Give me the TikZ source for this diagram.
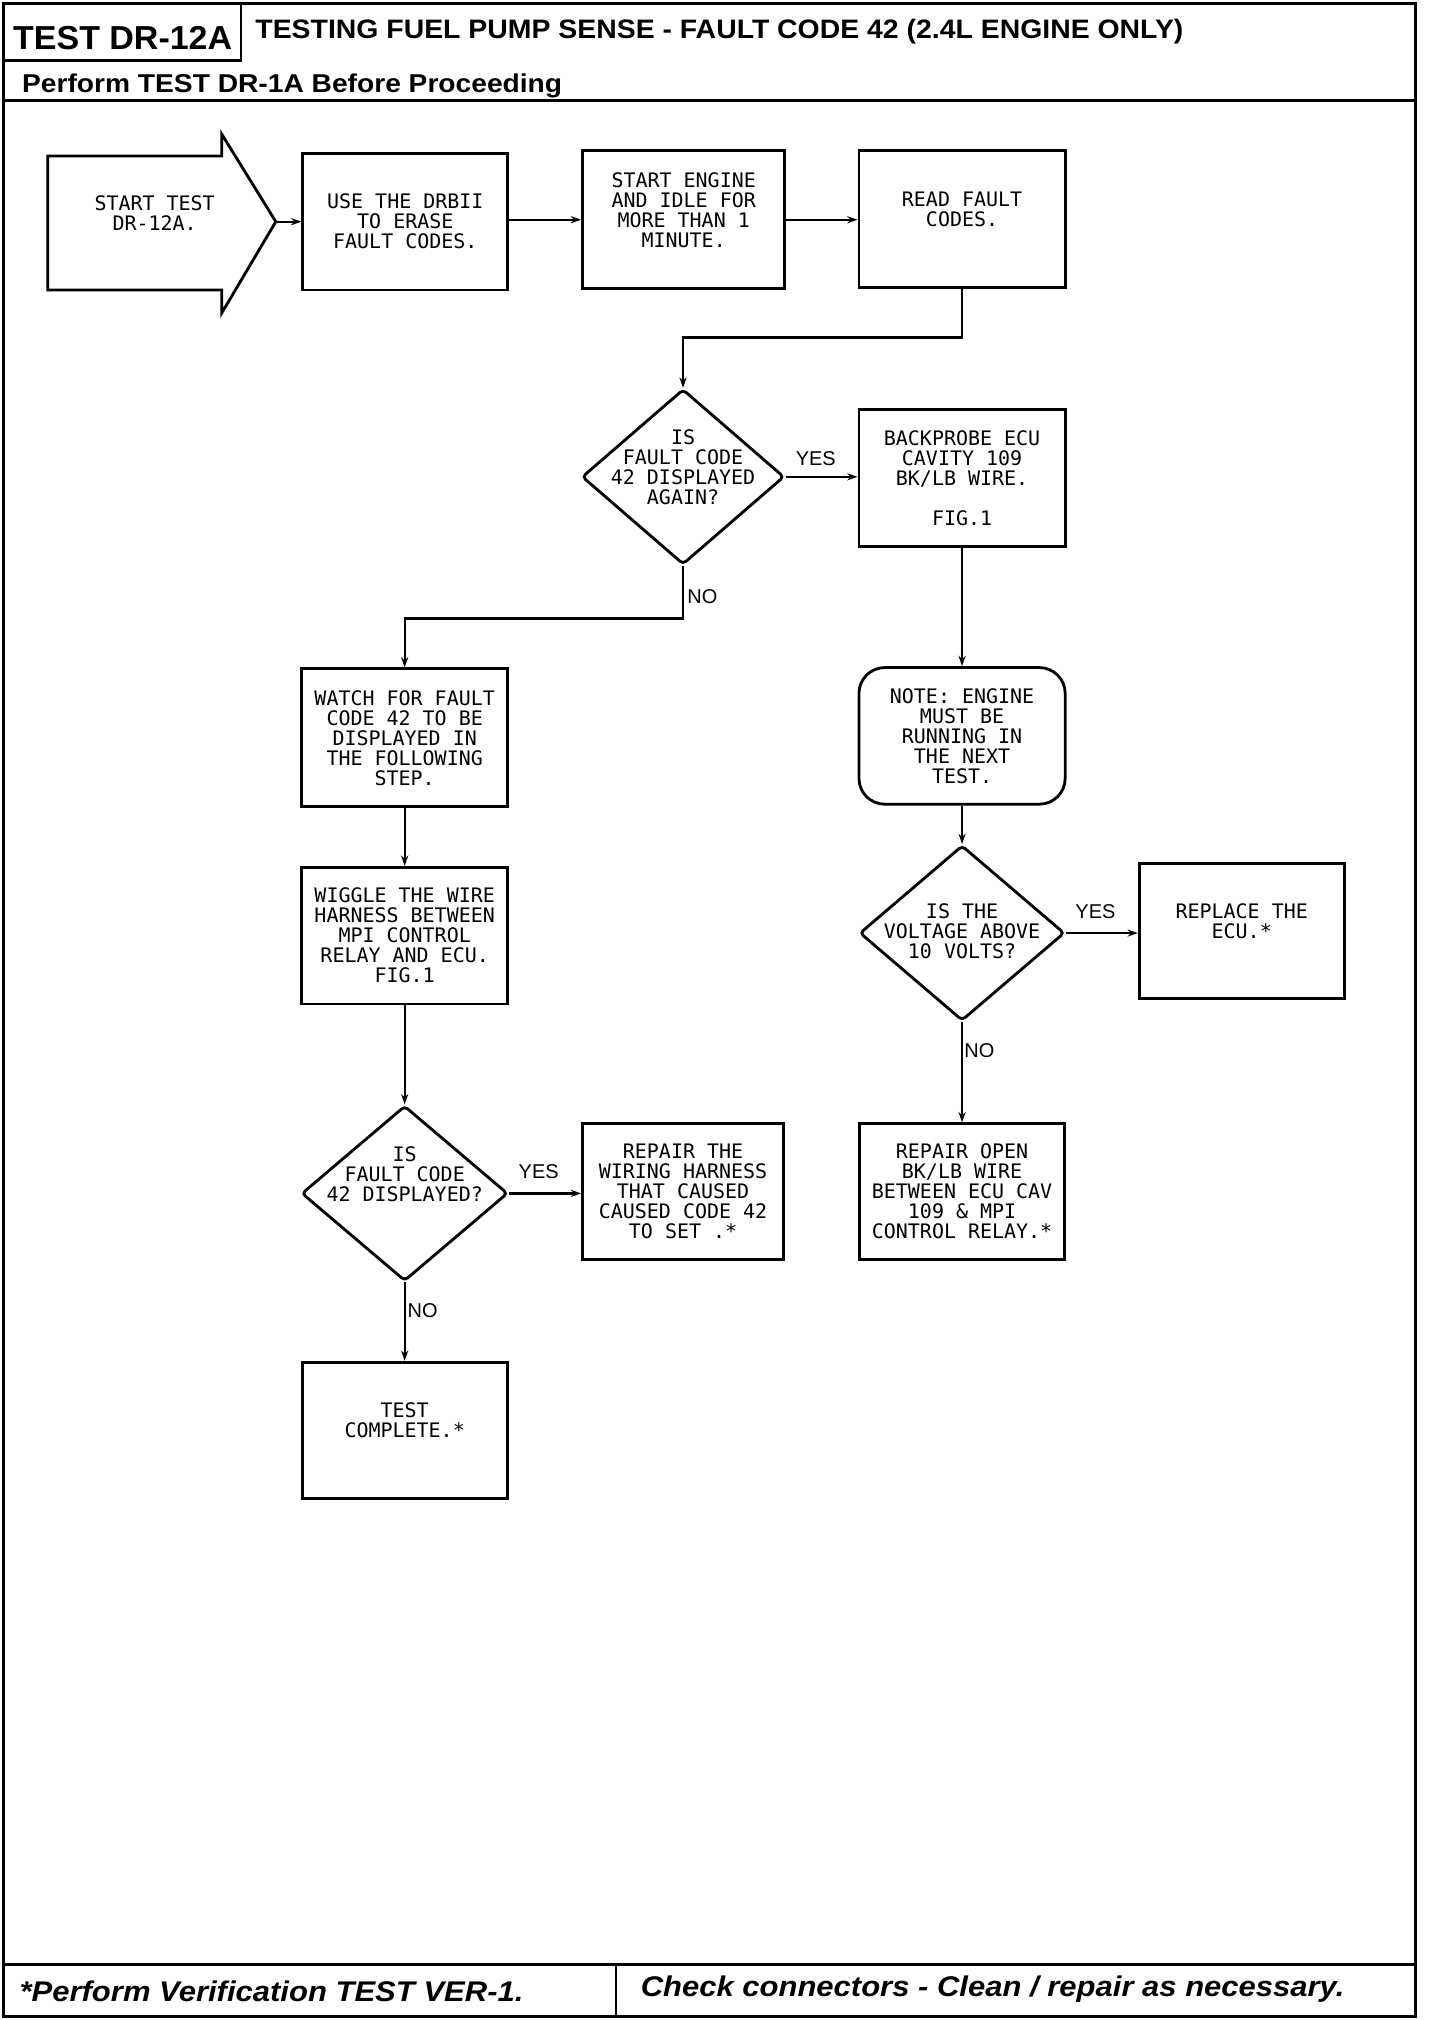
\documentclass[tikz,border=0pt]{standalone}
\usepackage{graphicx}
\usepackage{fontspec}
\setmainfont{Liberation Sans}
\newfontfamily\plotfont{DejaVu Sans Mono}
\usetikzlibrary{shapes.geometric,arrows.meta}
\begin{document}
\begin{tikzpicture}[x=1pt,y=-1pt,
  boxbase/.style={draw,line width=2.2pt,inner sep=0pt,align=center,
    font={\plotfont\fontsize{15.5pt}{15.5pt}\selectfont}},
  stepbox/.style 2 args={boxbase,rectangle,minimum width=#1,minimum height=#2},
  notebox/.style 2 args={boxbase,rectangle,rounded corners=20pt,minimum width=#1,minimum height=#2},
  decision/.style 2 args={draw,line width=2.2pt,diamond,inner sep=0pt,rounded corners=3pt,
    minimum width=#1,minimum height=#2},
  dtext/.style={inner sep=0pt,align=center,font={\plotfont\fontsize{15.5pt}{15.5pt}\selectfont}},
  arr/.style={-{Stealth[length=8pt,width=5.5pt]},line width=1.8pt},
  lab/.style={inner sep=0pt,font={\fontsize{15.5pt}{15.5pt}\selectfont}},
  rule/.style={line width=2.2pt}
]
\useasboundingbox (0,0) rectangle (1117.3,1567.4);

% ---- frame and header ----
\draw[rule,line width=2.4pt] (3,3) rectangle (1098,1565);
\draw[rule] (3,3) rectangle (187,47);
\draw[rule] (3,78) -- (1098,78);
\draw[rule] (3,1524) -- (1098,1524);
\draw[rule] (478,1524) -- (478,1565);
\node[anchor=base west,inner sep=0pt] (hdrid) at (10,38.5)
  {\resizebox{170pt}{18pt}{\bfseries TEST DR-12A}};
\node[anchor=base west,inner sep=0pt] (hdrtitle) at (198,29.5)
  {\resizebox{720pt}{15pt}{\bfseries TESTING FUEL PUMP SENSE - FAULT CODE 42 (2.4L ENGINE ONLY)}};
\node[anchor=base west,inner sep=0pt] (hdrpre) at (17,72)
  {\resizebox{419pt}{14.5pt}{\bfseries Perform TEST DR-1A Before Proceeding}};
\node[anchor=base west,inner sep=0pt] (ftleft) at (15,1553)
  {\resizebox{391pt}{16pt}{\bfseries\itshape *Perform Verification TEST VER-1.}};
\node[anchor=base west,inner sep=0pt] (ftright) at (497,1549)
  {\resizebox{546pt}{16pt}{\bfseries\itshape Check connectors - Clean / repair as necessary.}};

% ---- start arrow ----
\draw[rule] (37,121) -- (172,121) -- (172,104) -- (214,172) -- (172,243) -- (172,225) -- (37,225) -- cycle;
\coordinate (starttip) at (214,172);
\node[dtext] (start) at (120,165) {START TEST\\DR-12A.};

% ---- left / top column ----
\node[stepbox={159pt}{106pt}] (b1) at (314.5,172) {USE THE DRBII\\TO ERASE\\FAULT CODES.};
\node[stepbox={157pt}{107pt}] (b2) at (530.5,170.5) {START ENGINE\\AND IDLE FOR\\MORE THAN 1\\MINUTE.\\\mbox{}};
\node[stepbox={160pt}{106pt}] (b3) at (746.5,170) {READ FAULT\\CODES.\\\mbox{}};

\node[decision={157pt}{136pt}] (d1) at (530,370) {};
\node[dtext] (d1t) at (530,362.5) {IS\\FAULT CODE\\42 DISPLAYED\\AGAIN?};

\node[stepbox={160pt}{106pt}] (b4) at (746.5,371) {BACKPROBE ECU\\CAVITY 109\\BK/LB WIRE.\\[15.5pt]FIG.1};

\node[stepbox={160pt}{107pt}] (b5) at (314,572.5) {WATCH FOR FAULT\\CODE 42 TO BE\\DISPLAYED IN\\THE FOLLOWING\\STEP.};
\node[stepbox={160pt}{106pt}] (b6) at (314,726) {WIGGLE THE WIRE\\HARNESS BETWEEN\\MPI CONTROL\\RELAY AND ECU.\\FIG.1};

\node[decision={160pt}{136pt}] (d2) at (314,926) {};
\node[dtext] (d2t) at (314,911) {IS\\FAULT CODE\\42 DISPLAYED?};

\node[stepbox={156pt}{105pt}] (b7) at (530,924.5) {REPAIR THE\\WIRING HARNESS\\THAT CAUSED\\CAUSED CODE 42\\TO SET .*};
\node[stepbox={159pt}{106pt}] (b8) at (314,1110) {TEST\\COMPLETE.*\\\mbox{}};

% ---- right column ----
\node[notebox={160pt}{106pt}] (b9) at (746.5,571) {NOTE: ENGINE\\MUST BE\\RUNNING IN\\THE NEXT\\TEST.};
\node[decision={159pt}{136pt}] (d3) at (746.5,724) {};
\node[dtext] (d3t) at (746.5,722.5) {IS THE\\VOLTAGE ABOVE\\10 VOLTS?};
\node[stepbox={159pt}{105pt}] (b10) at (963.5,722.5) {REPLACE THE\\ECU.*\\\mbox{}};
\node[stepbox={159pt}{105pt}] (b11) at (746.5,924.5) {REPAIR OPEN\\BK/LB WIRE\\BETWEEN ECU CAV\\109 \& MPI\\CONTROL RELAY.*};

% ---- junctions ----
\coordinate (j1) at (530,262);
\coordinate (j2) at (314,480);

% ---- connectors ----
\draw[arr] (starttip) -- (starttip -| b1.west);
\draw[arr] (b2.west -| b1.east) -- (b2.west);
\draw[arr] (b2.east) -- (b2.east -| b3.west);
\draw[arr] (b3.south) |- (j1) -- (d1.north);
\draw[arr] (d1.east) -- (d1.east -| b4.west);
\draw[arr] (d1.south) |- (j2) -- (b5.north);
\draw[arr] (b5.south) -- (b6.north);
\draw[arr] (b6.south) -- (d2.north);
\draw[arr] (d2.east) -- (d2.east -| b7.west);
\draw[arr] (d2.south) -- (b8.north);
\draw[arr] (b4.south) -- (b9.north);
\draw[arr] (b9.south) -- (d3.north);
\draw[arr] (d3.east) -- (d3.east -| b10.west);
\draw[arr] (d3.south) -- (b11.north);

% ---- labels ----
\node[lab] (y1) at (633,356) {YES};
\node[lab] (n1) at (545,463) {NO};
\node[lab] (y2) at (418,909) {YES};
\node[lab] (n2) at (328,1017) {NO};
\node[lab] (y3) at (850,707) {YES};
\node[lab] (n3) at (760,815) {NO};
\end{tikzpicture}
\end{document}
